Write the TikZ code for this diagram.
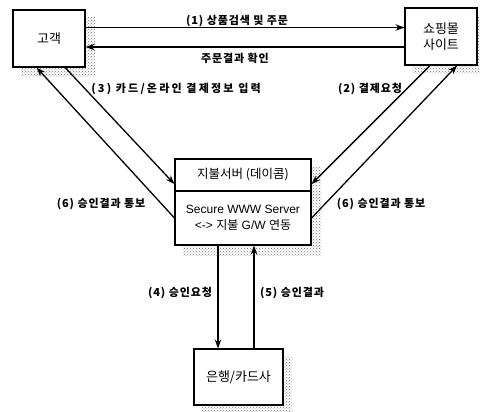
\documentclass[tikz,border=0pt]{standalone}
\usepackage{fontspec}
\setmainfont{Liberation Sans}
\newfontfamily\kr{Noto Sans CJK KR}
\usetikzlibrary{arrows.meta,calc,patterns}
\begin{document}
\begin{tikzpicture}[x=1pt,y=-1pt,
 box/.style={draw, line width=1.1pt, fill=white, inner sep=0pt, align=center,
   font=\kr\fontsize{13}{16}\selectfont},
 shadowfill/.style={pattern=crosshatch dots, pattern color=black!55},
 conn/.style={line width=1.3pt, -{Stealth[length=9pt,width=6.5pt]}},
 lbl/.style={font=\kr\bfseries\fontsize{11}{13}\selectfont\addfontfeature{LetterSpace=8}, inner sep=0pt}]
\useasboundingbox (0,0) rectangle (480,412);
% shadows
\path[shadowfill] (21,18) rectangle (95,77);
\path[shadowfill] (413,16) rectangle (480,74);
\path[shadowfill] (183,167) rectangle (321,255);
\path[shadowfill] (202,357) rectangle (292,412);
% boxes
\node[box, minimum width=72pt, minimum height=57pt] (cust) at (49,38.5) {고객};
\node[box, minimum width=72pt, minimum height=57pt] (shop) at (441,36.5) {쇼핑몰\\사이트};
\node[box, minimum width=136pt, minimum height=32pt, font=\kr\fontsize{12.5}{15}\selectfont] (srvT) at (243,175) {지불서버 (데이콤)};
\node[box, minimum width=136pt, minimum height=54pt, font=\fontsize{12}{16}\selectfont] (srvB) at (243,218)
  {Secure WWW Server\\<-> {\kr 지불} G/W {\kr 연동}};
\node[box, minimum width=89pt, minimum height=56pt] (bank) at (238.5,377) {은행/카드사};
% connectors
\coordinate (h1) at (0,27.5);
\coordinate (h2) at (0,47);
\draw[conn] (cust.east |- h1) -- (shop.west |- h1);
\draw[conn] (shop.west |- h2) -- (cust.east |- h2);
\draw[conn] (srvB.west) -- ($(cust.south west)!0.33!(cust.south east)$);
\draw[conn] ($(cust.south west)!0.72!(cust.south east)$) -- ($(srvT.west)!0.55!(srvT.south west)$);
\draw[conn] ($(shop.south west)!0.35!(shop.south east)$) -- ($(srvT.east)!0.55!(srvT.south east)$);
\draw[conn] (srvB.east) -- ($(shop.south west)!0.72!(shop.south east)$);
\coordinate (v1) at (218,0);
\coordinate (v2) at (254,0);
\draw[conn] (srvB.south -| v1) -- (bank.north -| v1);
\draw[conn] (bank.north -| v2) -- (srvB.south -| v2);
% labels
\node[lbl] (l1) at (237,20.5) {(1) 상품검색 및 주문};
\node[lbl] (l1b) at (235,58) {주문결과 확인};
\node[lbl, font=\kr\bfseries\fontsize{11}{13}\selectfont\addfontfeature{LetterSpace=20}] (l3) at (176,88.5) {(3) 카드/온라인 결제정보 입력};
\node[lbl] (l2) at (370,88.5) {(2) 결제요청};
\node[lbl] (l6a) at (101,204) {(6) 승인결과 통보};
\node[lbl] (l6b) at (381,204) {(6) 승인결과 통보};
\node[lbl] (l4) at (180,293) {(4) 승인요청};
\node[lbl] (l5) at (292,293) {(5) 승인결과};
\end{tikzpicture}
\end{document}
